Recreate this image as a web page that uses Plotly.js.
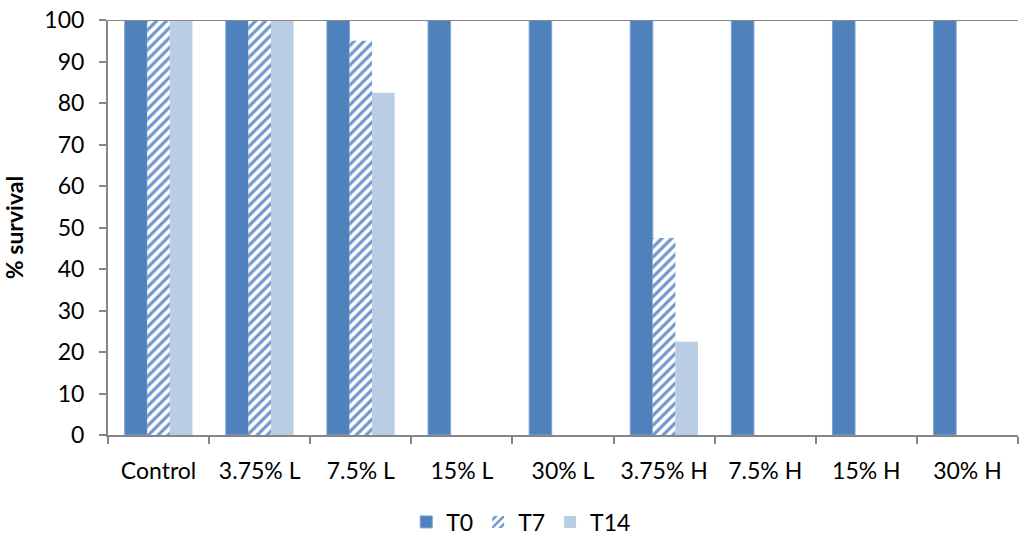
<!DOCTYPE html>
<html>
<head>
<meta charset="utf-8">
<script src="https://cdn.plot.ly/plotly-3.0.1.min.js"></script>
<style>html,body{margin:0;padding:0;background:#fff}#chart{width:1022px;height:537px}</style>
</head>
<body>
<div id="chart"></div>
<script>
var categories = ["Control", "3.75% L", "7.5% L", "15% L", "30% L", "3.75% H", "7.5% H", "15% H", "30% H"];
var t0 = [100, 100, 100, 100, 100, 100, 100, 100, 100];
var t7 = [100, 100, 95, 0, 0, 47.5, 0, 0, 0];
var t14 = [100, 100, 82.5, 0, 0, 22.5, 0, 0, 0];
var yTicks = [0, 10, 20, 30, 40, 50, 60, 70, 80, 90, 100];

var FONT = "Lato, 'Open Sans', sans-serif";
var traces = [
  {type: "bar", name: "T0", x: categories, y: t0,
   marker: {color: "#4f81bd", line: {color: "#7fa3d3", width: 1}}},
  {type: "bar", name: "T7", x: categories, y: t7,
   marker: {color: "#ffffff", line: {color: "#ffffff", width: 0},
            pattern: {shape: "/", fgcolor: "#6f95cc", bgcolor: "#ffffff", size: 7, solidity: 0.45}}},
  {type: "bar", name: "T14", x: categories, y: t14,
   marker: {color: "#b9cde5", line: {width: 0}}}
];

var layout = {
  width: 1022, height: 537,
  margin: {l: 108, r: 4, t: 20, b: 102, autoexpand: false},
  paper_bgcolor: "#fff", plot_bgcolor: "#fff",
  barmode: "group", bargap: 0.33, bargroupgap: 0,
  font: {family: FONT, size: 23, color: "#000"},
  xaxis: {
    type: "category", showline: true, linecolor: "#868686", linewidth: 2,
    ticks: "outside", tickson: "boundaries", ticklen: 7, tickcolor: "#868686", tickwidth: 2,
    ticklabelstandoff: 14,
    tickfont: {family: FONT, size: 23, color: "#000"}, showgrid: false, zeroline: false,
    automargin: false
  },
  yaxis: {
    range: [0, 100], tickvals: yTicks, showline: true, linecolor: "#868686", linewidth: 2,
    ticks: "outside", ticklen: 7, tickcolor: "#868686", tickwidth: 2,
    ticklabelstandoff: 10,
    tickfont: {family: FONT, size: 23, color: "#000"}, showgrid: false, zeroline: false,
    automargin: false,
    title: {text: "<b>% survival</b>", font: {family: FONT, size: 23, color: "#000"}, standoff: 14}
  },
  shapes: [{type: "line", xref: "paper", yref: "y", x0: 0, x1: 1, y0: 100, y1: 100,
            line: {color: "#868686", width: 2}}],
  legend: {orientation: "h", xref: "container", x: 0.51, xanchor: "center", yref: "container", y: 0.028, yanchor: "middle",
           font: {family: FONT, size: 23, color: "#000"}, traceorder: "normal", itemwidth: 30},
  showlegend: true
};

Plotly.newPlot("chart", traces, layout, {displayModeBar: false, staticPlot: true});
</script>
</body>
</html>
